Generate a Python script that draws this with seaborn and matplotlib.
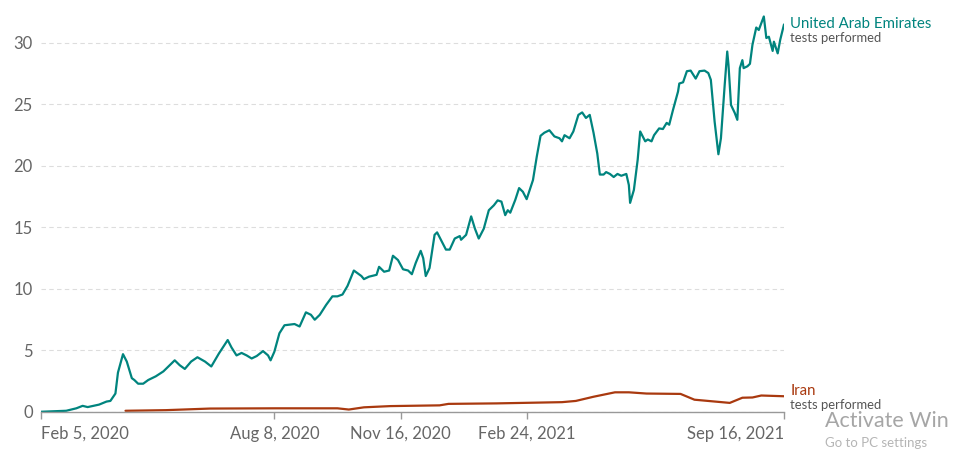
import pandas as pd
import seaborn as sns
import matplotlib.pyplot as plt

# UAE daily tests per 1,000 people
uae_dates = [
    "2020-02-05", "2020-02-25", "2020-03-04", "2020-03-09", "2020-03-13", "2020-03-22",
    "2020-03-28", "2020-03-31", "2020-04-04", "2020-04-06", "2020-04-10", "2020-04-13",
    "2020-04-17", "2020-04-19", "2020-04-22", "2020-04-26", "2020-04-30", "2020-05-06",
    "2020-05-12", "2020-05-17", "2020-05-21", "2020-05-25", "2020-05-29", "2020-06-03",
    "2020-06-08", "2020-06-14", "2020-06-19", "2020-06-25", "2020-07-02", "2020-07-05",
    "2020-07-09", "2020-07-13", "2020-07-17", "2020-07-21", "2020-07-25", "2020-07-30",
    "2020-08-03", "2020-08-05", "2020-08-08", "2020-08-12", "2020-08-16", "2020-08-20",
    "2020-08-24", "2020-08-28", "2020-09-02", "2020-09-06", "2020-09-09", "2020-09-13",
    "2020-09-18", "2020-09-23", "2020-09-27", "2020-10-01", "2020-10-05", "2020-10-10",
    "2020-10-16", "2020-10-18", "2020-10-22", "2020-10-28", "2020-10-30", "2020-11-03",
    "2020-11-07", "2020-11-10", "2020-11-14", "2020-11-18", "2020-11-22", "2020-11-25",
    "2020-11-28", "2020-12-02", "2020-12-04", "2020-12-06", "2020-12-09", "2020-12-13",
    "2020-12-15", "2020-12-18", "2020-12-22", "2020-12-25", "2020-12-29", "2021-01-02",
    "2021-01-03", "2021-01-07", "2021-01-11", "2021-01-14", "2021-01-17", "2021-01-21",
    "2021-01-25", "2021-01-29", "2021-02-01", "2021-02-04", "2021-02-07", "2021-02-09",
    "2021-02-11", "2021-02-15", "2021-02-18", "2021-02-21", "2021-02-24", "2021-03-01",
    "2021-03-04", "2021-03-07", "2021-03-10", "2021-03-14", "2021-03-18", "2021-03-22",
    "2021-03-24", "2021-03-26", "2021-03-30", "2021-04-02", "2021-04-06", "2021-04-09",
    "2021-04-12", "2021-04-15", "2021-04-18", "2021-04-21", "2021-04-23", "2021-04-26",
    "2021-04-28", "2021-05-01", "2021-05-04", "2021-05-07", "2021-05-10", "2021-05-14",
    "2021-05-16", "2021-05-17", "2021-05-20", "2021-05-23", "2021-05-25", "2021-05-29",
    "2021-05-31", "2021-06-03", "2021-06-05", "2021-06-09", "2021-06-12", "2021-06-15",
    "2021-06-17", "2021-06-20", "2021-06-24", "2021-06-25", "2021-06-28", "2021-07-01",
    "2021-07-04", "2021-07-08", "2021-07-11", "2021-07-15", "2021-07-18", "2021-07-20",
    "2021-07-23", "2021-07-26", "2021-07-28", "2021-07-31", "2021-08-02", "2021-08-03",
    "2021-08-05", "2021-08-08", "2021-08-10", "2021-08-12", "2021-08-14", "2021-08-15",
    "2021-08-18", "2021-08-20", "2021-08-22", "2021-08-25", "2021-08-27", "2021-08-29",
    "2021-08-31", "2021-09-02", "2021-09-04", "2021-09-07", "2021-09-08", "2021-09-11",
    "2021-09-13", "2021-09-16",
]
uae_tests = [
    0.02, 0.1, 0.3, 0.5, 0.4, 0.6,
    0.85, 0.9, 1.5, 3.2, 4.7, 4.1,
    2.75, 2.6, 2.3, 2.3, 2.6, 2.9,
    3.3, 3.8, 4.2, 3.8, 3.5, 4.1,
    4.45, 4.1, 3.7, 4.75, 5.85, 5.25,
    4.6, 4.8, 4.6, 4.35, 4.55, 4.95,
    4.6, 4.2, 4.9, 6.4, 7.05, 7.1,
    7.15, 6.95, 8.1, 7.9, 7.5, 7.9,
    8.7, 9.4, 9.4, 9.55, 10.25, 11.5,
    11.05, 10.8, 11.0, 11.15, 11.8, 11.4,
    11.5, 12.7, 12.35, 11.6, 11.5, 11.2,
    12.1, 13.1, 12.5, 11.05, 11.7, 14.4,
    14.6, 14.0, 13.2, 13.2, 14.1, 14.3,
    14.0, 14.4, 15.9, 14.9, 14.1, 14.9,
    16.4, 16.8, 17.2, 17.1, 16.0, 16.4,
    16.2, 17.25, 18.2, 17.9, 17.3, 18.85,
    20.75, 22.45, 22.7, 22.9, 22.4, 22.25,
    22.0, 22.5, 22.25, 22.8, 24.15, 24.35,
    23.9, 24.15, 22.7, 21.0, 19.3, 19.3,
    19.5, 19.35, 19.1, 19.35, 19.2, 19.35,
    18.45, 17.0, 18.05, 20.5, 22.8, 22.0,
    22.15, 22.0, 22.5, 23.05, 23.0, 23.5,
    23.35, 24.55, 26.05, 26.7, 26.8, 27.7,
    27.75, 27.1, 27.7, 27.75, 27.55, 27.0,
    23.6, 20.95, 22.25, 26.6, 29.3, 28.2,
    24.95, 24.3, 23.75, 27.95, 28.6, 27.95,
    28.1, 28.3, 29.85, 31.25, 31.05, 31.6,
    32.15, 30.4, 30.5, 29.35, 30.1, 29.15,
    30.25, 31.5,
]

# Iran
iran_dates = [
    "2020-04-12", "2020-05-14", "2020-06-18", "2020-08-09", "2020-09-27", "2020-10-06",
    "2020-10-18", "2020-11-08", "2020-12-17", "2020-12-24", "2021-01-31", "2021-03-24",
    "2021-04-04", "2021-04-18", "2021-05-05", "2021-05-16", "2021-05-30", "2021-06-26",
    "2021-07-07", "2021-08-04", "2021-08-14", "2021-08-22", "2021-08-29", "2021-09-16",
]
iran_tests = [
    0.1, 0.15, 0.28, 0.3, 0.3, 0.2,
    0.38, 0.48, 0.54, 0.66, 0.7, 0.8,
    0.9, 1.24, 1.6, 1.6, 1.5, 1.47,
    1.0, 0.74, 1.16, 1.18, 1.34, 1.28,
]

countries = ["United Arab Emirates", "Iran"]
colors = {"United Arab Emirates": "#00847E", "Iran": "#A9390F"}
# offsets (points) of the name / sub-label from the line end
label_offsets = {"United Arab Emirates": (0.5, -9.5), "Iran": (3.5, -6.5)}

tick_dates = ["2020-02-05", "2020-08-08", "2020-11-16", "2021-02-24", "2021-09-16"]
tick_labels = ["Feb 5, 2020", "Aug 8, 2020", "Nov 16, 2020", "Feb 24, 2021", "Sep 16, 2021"]
y_ticks = [0, 5, 10, 15, 20, 25, 30]

df = pd.concat([
    pd.DataFrame({"date": pd.to_datetime(uae_dates), "tests": uae_tests, "country": countries[0]}),
    pd.DataFrame({"date": pd.to_datetime(iran_dates), "tests": iran_tests, "country": countries[1]}),
])

sns.set_theme(style="white")
plt.rcParams['font.family'] = ['Lato', 'DejaVu Sans']

fig = plt.figure(figsize=(9.6, 4.5), dpi=100)
ax = fig.add_axes([41 / 960, 38 / 450, 743 / 960, 406 / 450])

sns.lineplot(data=df, x="date", y="tests", hue="country", palette=colors,
             linewidth=1.6, legend=False, ax=ax)

ax.set_xlim(pd.Timestamp(tick_dates[0]), pd.Timestamp(tick_dates[-1]))
ax.set_ylim(0, 33)
ax.set_xlabel("")
ax.set_ylabel("")

# axes styling
ax.set_yticks(y_ticks)
ax.yaxis.grid(True, linestyle=(0, (4, 3)), color="#dddddd", linewidth=0.8)
ax.xaxis.grid(False)
for side in ["left", "top", "right"]:
    ax.spines[side].set_visible(False)
ax.spines["bottom"].set_color("#999999")
ax.spines["bottom"].set_linewidth(1)
ax.tick_params(axis="y", length=0, pad=6, labelcolor="#666666", labelsize=12)
ax.tick_params(axis="x", length=5, width=1, color="#999999", pad=5,
               labelcolor="#666666", labelsize=12, bottom=True)

ax.set_xticks(pd.to_datetime(tick_dates))
ax.set_xticklabels(tick_labels)
xt = ax.get_xticklabels()
xt[0].set_horizontalalignment("left")
xt[-1].set_horizontalalignment("right")

# line-end labels
for name, dates, vals in [(countries[0], uae_dates, uae_tests), (countries[1], iran_dates, iran_tests)]:
    end = (pd.Timestamp(dates[-1]), vals[-1])
    off_name, off_sub = label_offsets[name]
    ax.annotate(name, xy=end, xytext=(4.5, off_name), textcoords="offset points",
                color=colors[name], fontsize=10.8, va="center", ha="left", annotation_clip=False)
    ax.annotate("tests performed", xy=end, xytext=(4.5, off_sub), textcoords="offset points",
                color="#555555", fontsize=9.4, va="center", ha="left", annotation_clip=False)

# windows watermark seen in the screenshot (only the visible part)
fig.text(825 / 960, 1 - 421 / 450, "Activate Win", color="#a6a6a6", fontsize=15.5, va="center")
fig.text(825 / 960, 1 - 443 / 450, "Go to PC settings", color="#b5b5b5",
         fontsize=9.5, va="center")

fig.savefig("out.png", dpi=100)
